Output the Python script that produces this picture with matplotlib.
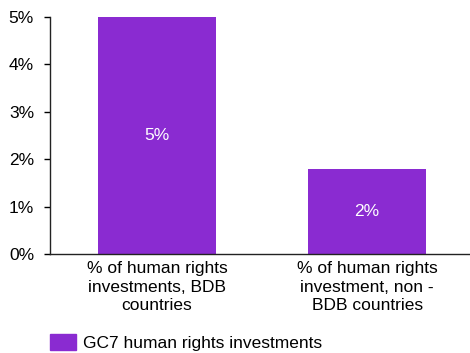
import matplotlib.pyplot as plt
from matplotlib.patches import Patch

# Share of human rights investments by country group
categories = ["% of human rights\ninvestments, BDB\ncountries",
              "% of human rights\ninvestment, non -\nBDB countries"]
values = [5.0, 1.8]
series_name = "GC7 human rights investments"
yticks = [0, 1, 2, 3, 4, 5]

BAR_COLOR = "#8A2BD1"

plt.rcParams["font.family"] = ["Liberation Sans", "DejaVu Sans"]
plt.rcParams["font.size"] = 12.5

fig = plt.figure(figsize=(4.70, 3.53), dpi=100)
ax = fig.add_axes([50 / 470, 1 - 254 / 353, 420 / 470, 237 / 353])

x = [0, 1]
bars = ax.bar(x, values, width=0.565, color=BAR_COLOR)
for rect, v in zip(bars, values):
    ax.text(rect.get_x() + rect.get_width() / 2, v / 2, f"{v:.0f}%",
            ha="center", va="center", color="white", fontsize=12.5)

ax.set_xlim(-0.51, 1.49)
ax.set_ylim(0, 5)
ax.set_yticks(yticks)
ax.set_yticklabels([f"{t}%" for t in yticks])
ax.set_xticks(x)
ax.set_xticklabels(categories, linespacing=1.3)
ax.tick_params(axis="x", length=0, pad=5)
ax.tick_params(axis="y", length=4.5, width=1, pad=7, direction="out")

for side in ["top", "right"]:
    ax.spines[side].set_visible(False)
for side in ["left", "bottom"]:
    ax.spines[side].set_color("#222222")
    ax.spines[side].set_linewidth(1)

fig.legend(handles=[Patch(color=BAR_COLOR, label=series_name)],
           loc="lower left", bbox_to_anchor=(34 / 470, -0.038), frameon=False,
           handlelength=1.5, handleheight=1.1, handletextpad=0.4,
           fontsize=12.5)

fig.savefig("out.png", dpi=100)
